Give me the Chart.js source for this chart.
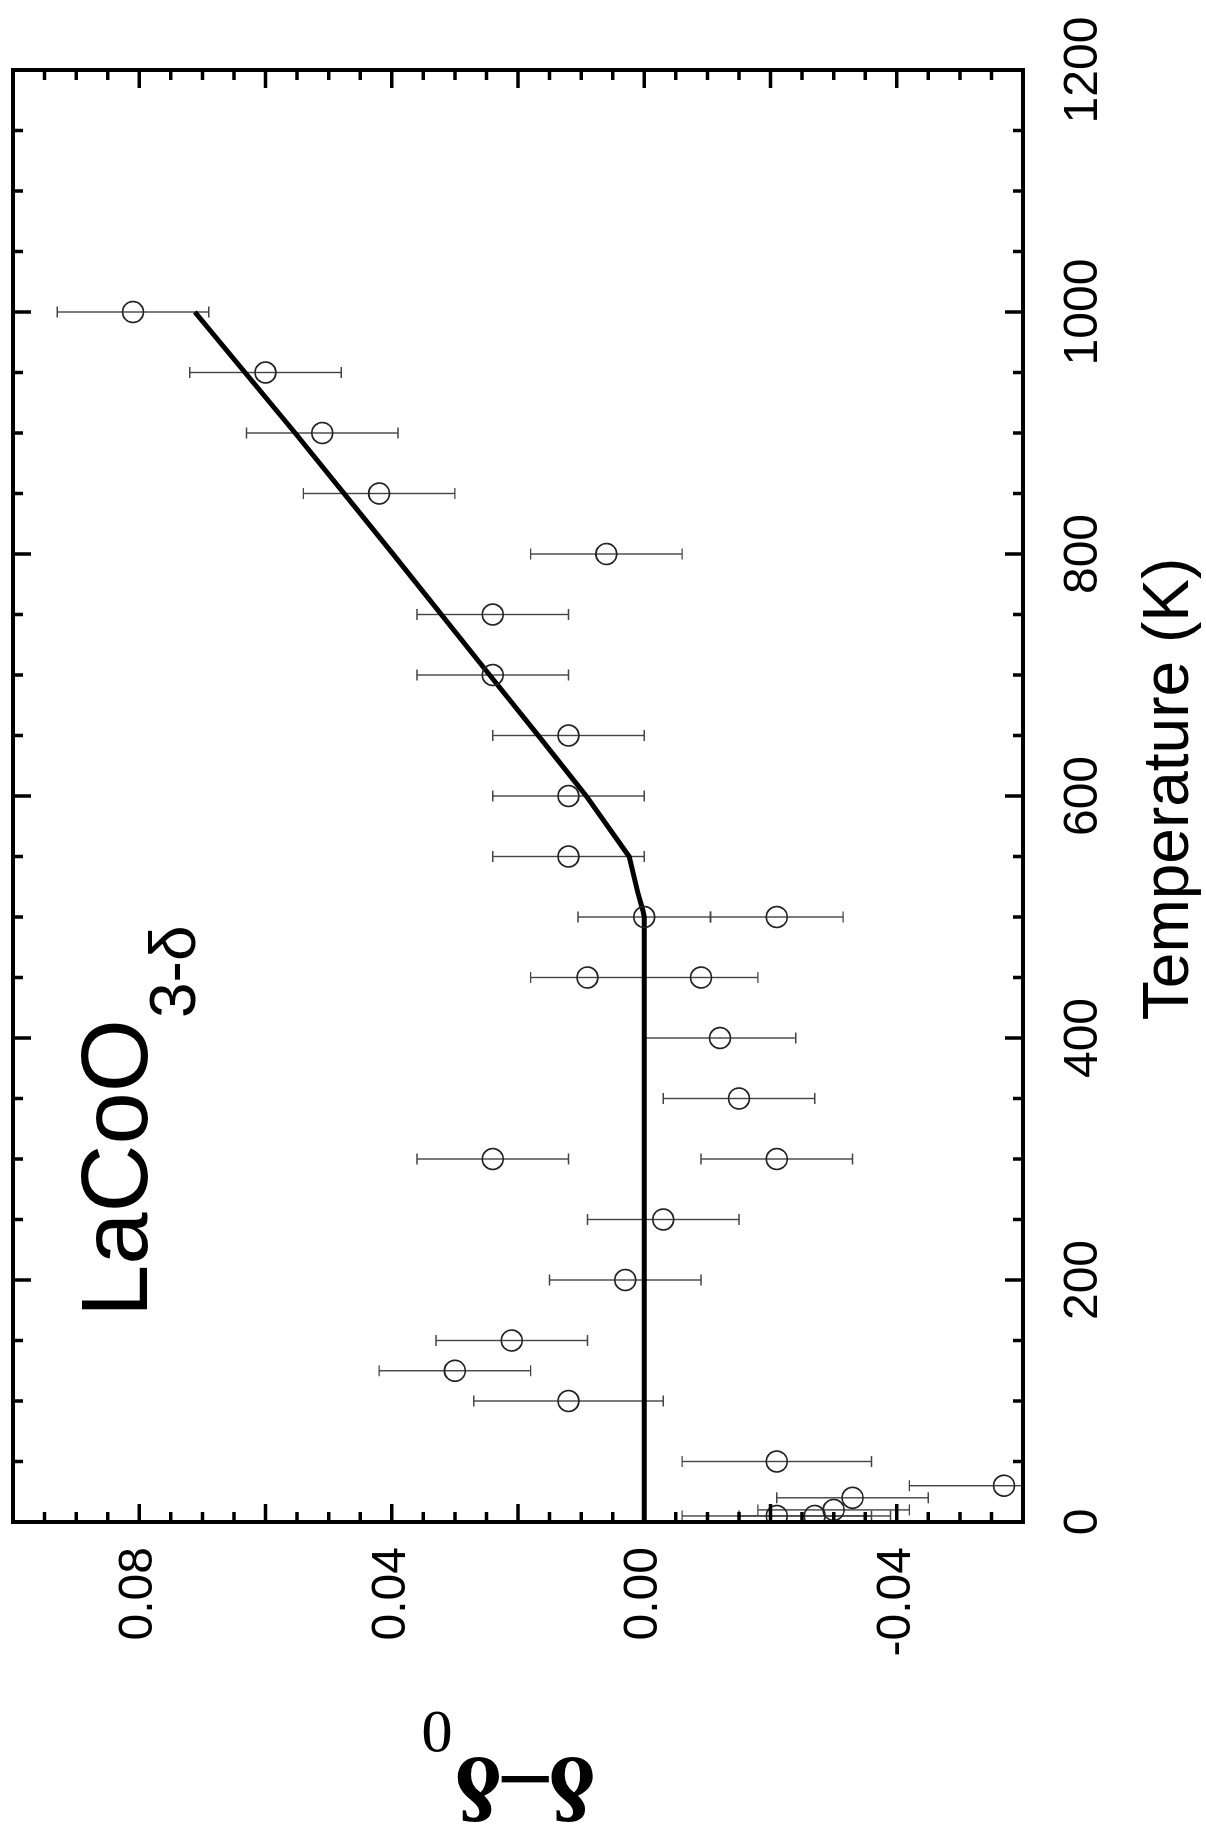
<!DOCTYPE html>
<html>
<head>
<meta charset="utf-8">
<script src="https://cdn.jsdelivr.net/npm/chart.js@4.4.1/dist/chart.umd.min.js"></script>
<style>
  html, body { margin: 0; padding: 0; background: #fff; }
  #wrap { position: relative; width: 1206px; height: 1834px; overflow: hidden; background: #fff; }
  /* the figure is printed turned a quarter turn counter-clockwise */
  #chart { position: absolute; left: 0; top: 0; width: 1834px; height: 1206px;
           transform-origin: 0 0; transform: translateY(1834px) rotate(-90deg); }
</style>
</head>
<body>
<div id="wrap"><canvas id="chart" width="1834" height="1206"></canvas></div>
<script>
// measured points: temperature (K), delta - delta0, error on delta
const tempK = [1000, 950, 900, 850, 800, 750, 700, 650, 600, 550, 500, 500, 450, 450,
  400, 350, 300, 300, 250, 200, 150, 125, 100, 50, 30, 20, 10, 5, 5];
const delta = [0.081, 0.060, 0.051, 0.042, 0.006, 0.024, 0.024, 0.012, 0.012, 0.012,
  0.000, -0.021, 0.009, -0.009, -0.012, -0.015, 0.024, -0.021, -0.003, 0.003,
  0.021, 0.030, 0.012, -0.021, -0.057, -0.033, -0.030, -0.027, -0.021];
const deltaErr = [0.012, 0.012, 0.012, 0.012, 0.012, 0.012, 0.012, 0.012, 0.012, 0.012,
  0.0105, 0.0105, 0.009, 0.009, 0.012, 0.012, 0.012, 0.012, 0.012, 0.012,
  0.012, 0.012, 0.015, 0.015, 0.015, 0.012, 0.012, 0.012, 0.015];

// model curve
const fitT = [0, 500, 505, 520, 550, 600, 650, 700, 800, 900, 1000];
const fitD = [0, 0, 0.0002, 0.001, 0.0024, 0.0092, 0.0168, 0.0245, 0.0398, 0.0553, 0.0712];

// axis labels
const tempLabels = [0, 200, 400, 600, 800, 1000, 1200];
const deltaLabels = ["-0.04", "0.00", "0.04", "0.08"];

const points = tempK.map((t, i) => ({ x: t, y: delta[i] }));
const fit = fitT.map((t, i) => ({ x: t, y: fitD[i] }));

const sans = '"Liberation Sans", Arial, sans-serif';
const serif = '"Liberation Serif", "Times New Roman", serif';

const plotExtras = {
  id: "plotExtras",
  beforeDatasetsDraw(chart) {
    const { ctx, chartArea: a, scales: { x, y } } = chart;
    ctx.save();
    ctx.beginPath();
    ctx.rect(a.left, a.top, a.right - a.left, a.bottom - a.top);
    ctx.clip();
    ctx.strokeStyle = "#444";
    ctx.lineWidth = 1.4;
    tempK.forEach((t, i) => {
      const px = x.getPixelForValue(t);
      const lo = y.getPixelForValue(delta[i] - deltaErr[i]);
      const hi = y.getPixelForValue(delta[i] + deltaErr[i]);
      ctx.beginPath();
      ctx.moveTo(px, lo);
      ctx.lineTo(px, hi);
      ctx.moveTo(px - 5.5, lo);
      ctx.lineTo(px + 5.5, lo);
      ctx.moveTo(px - 5.5, hi);
      ctx.lineTo(px + 5.5, hi);
      ctx.stroke();
    });
    ctx.restore();
  },
  afterDraw(chart) {
    const { ctx, chartArea: a, scales: { x, y } } = chart;
    ctx.save();
    ctx.strokeStyle = "#000";
    ctx.lineWidth = 3.5;
    // inward ticks on all four sides
    ctx.beginPath();
    for (let i = 0; i <= 24; i++) {
      const px = x.getPixelForValue(i * 50);
      const len = i % 4 === 0 ? 18 : 10;
      ctx.moveTo(px, a.bottom);
      ctx.lineTo(px, a.bottom - len);
      ctx.moveTo(px, a.top);
      ctx.lineTo(px, a.top + len);
    }
    for (let i = 0; i <= 32; i++) {
      const py = y.getPixelForValue(-0.06 + i * 0.005);
      const len = i % 4 === 0 ? 18 : 10;
      ctx.moveTo(a.left, py);
      ctx.lineTo(a.left + len, py);
      ctx.moveTo(a.right, py);
      ctx.lineTo(a.right - len, py);
    }
    ctx.stroke();
    ctx.lineWidth = 4;
    ctx.strokeRect(a.left, a.top, a.right - a.left, a.bottom - a.top);

    ctx.fillStyle = "#000";
    ctx.textBaseline = "alphabetic";
    ctx.textAlign = "left";
    ctx.font = "94px " + sans;
    ctx.fillText("LaCoO", 517, 147);
    ctx.font = "64px " + sans;
    ctx.fillText("3-δ", 816, 195);

    ctx.textAlign = "center";
    ctx.font = "64px " + sans;
    ctx.fillText("Temperature (K)", (a.left + a.right) / 2 + 7, 1188);

    ctx.save();
    ctx.translate(76, 596);
    ctx.rotate(-Math.PI / 2);
    ctx.textAlign = "left";
    ctx.font = "bold 92px " + serif;
    ctx.fillText("δ–δ", 0, 0);
    const w = ctx.measureText("δ–δ").width;
    ctx.font = "62px " + serif;
    ctx.fillText("0", w + 2, 46);
    ctx.restore();
    ctx.restore();
  }
};

new Chart(document.getElementById("chart"), {
  type: "scatter",
  data: {
    datasets: [
      {
        label: "measured",
        data: points,
        pointStyle: "circle",
        pointRadius: 10.5,
        pointBorderWidth: 1.6,
        pointBorderColor: "#222",
        pointBackgroundColor: "rgba(0,0,0,0)",
        showLine: false
      },
      {
        label: "model",
        data: fit,
        showLine: true,
        borderColor: "#000",
        borderWidth: 5,
        pointRadius: 0,
        fill: false,
        tension: 0
      }
    ]
  },
  options: {
    responsive: false,
    animation: false,
    devicePixelRatio: 1,
    layout: { padding: { top: 13, right: 70, left: 0, bottom: 0 } },
    plugins: { legend: { display: false }, tooltip: { enabled: false } },
    scales: {
      x: {
        type: "linear",
        min: 0,
        max: 1200,
        grid: { display: false, drawTicks: false },
        border: { display: false },
        ticks: {
          stepSize: 200,
          autoSkip: false,
          maxRotation: 0,
          padding: 32,
          color: "#000",
          font: { family: sans, size: 48 },
          callback: (v) => (tempLabels.includes(v) ? String(v) : "")
        },
        afterFit(s) {
          s.height = 183;
          s.paddingLeft = 0;
          s.paddingRight = 0;
        }
      },
      y: {
        type: "linear",
        min: -0.06,
        max: 0.10,
        grid: { display: false, drawTicks: false },
        border: { display: false },
        ticks: {
          stepSize: 0.02,
          autoSkip: false,
          padding: 25,
          color: "#000",
          font: { family: sans, size: 48 },
          callback: (v) => {
            const s = v.toFixed(2) === "-0.00" ? "0.00" : v.toFixed(2);
            return deltaLabels.includes(s) ? s : "";
          }
        },
        afterFit(s) {
          s.width = 312;
          s.paddingTop = 0;
          s.paddingBottom = 0;
        }
      }
    }
  },
  plugins: [plotExtras]
});
</script>
</body>
</html>
